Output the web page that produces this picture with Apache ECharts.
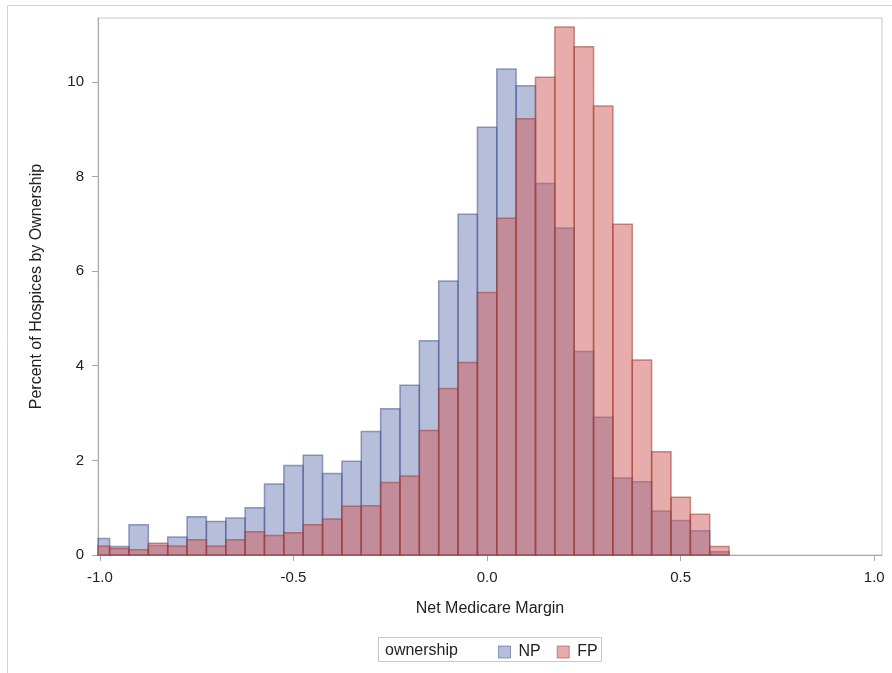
<!DOCTYPE html>
<html>
<head>
<meta charset="utf-8">
<script src="https://cdn.jsdelivr.net/npm/echarts@6/dist/echarts.min.js"></script>
<style>
  html, body { margin: 0; padding: 0; background: #fff; }
  #chart { width: 892px; height: 673px; }
</style>
</head>
<body>
<div id="chart"></div>
<script>
 // histogram of net medicare margin, bins of 0.05
 var binCenters = [-1.0, -0.95, -0.9, -0.85, -0.8, -0.75, -0.7, -0.65, -0.6, -0.55, -0.5,
     -0.45, -0.4, -0.35, -0.3, -0.25, -0.2, -0.15, -0.1, -0.05, 0.0, 0.05, 0.1, 0.15, 0.2,
     0.25, 0.3, 0.35, 0.4, 0.45, 0.5, 0.55, 0.6];
 var npValues = [0.35, 0.18, 0.64, 0.2, 0.38, 0.81, 0.71, 0.78, 1.0, 1.5, 1.89,
     2.11, 1.72, 1.98, 2.61, 3.09, 3.59, 4.53, 5.79, 7.2, 9.04, 10.27, 9.92, 7.85, 6.91,
     4.3, 2.91, 1.63, 1.55, 0.93, 0.73, 0.51, 0.07];
 var fpValues = [0.19, 0.14, 0.11, 0.25, 0.19, 0.32, 0.19, 0.32, 0.49, 0.41, 0.47,
     0.64, 0.76, 1.03, 1.04, 1.53, 1.67, 2.63, 3.52, 4.07, 5.55, 7.12, 9.22, 10.1, 11.16,
     10.74, 9.49, 6.99, 4.12, 2.18, 1.22, 0.86, 0.18];
 var xTicks = [-1.0, -0.5, 0.0, 0.5, 1.0];
 var yTicks = [0, 2, 4, 6, 8, 10];

 var binWidth = 0.05;
 var xMin = -1.005, xMax = 1.02;

 var toData = function (values) {
     var res = [];
     for (var i = 0; i < binCenters.length; i++) {
         res.push([binCenters[i], values[i]]);
     }
     return res;
 };

 var makeRender = function (fill, stroke) {
     return function (params, api) {
         var x0 = Math.max(api.value(0) - binWidth / 2, xMin);
         var x1 = Math.min(api.value(0) + binWidth / 2, xMax);
         var p0 = api.coord([x0, api.value(1)]);
         var p1 = api.coord([x1, 0]);
         return {
             type: 'rect',
             shape: { x: p0[0], y: p0[1], width: p1[0] - p0[0], height: p1[1] - p0[1] },
             style: { fill: fill, stroke: stroke, lineWidth: 1.5 }
         };
     };
 };

 var npFill = 'rgba(111, 126, 179, 0.5)';
 var npLine = 'rgba(68, 86, 148, 0.55)';
 var fpFill = 'rgba(208, 91, 91, 0.5)';
 var fpLine = 'rgba(162, 58, 46, 0.55)';
 var axisGray = '#a8a8a8';
 var textColor = '#222';
 var font = 'Liberation Sans';

 var chart = echarts.init(document.getElementById('chart'));
 chart.setOption({
     animation: false,
     grid: {
         left: 98,
         right: 10,
         top: 18,
         bottom: 118,
         show: true,
         borderColor: '#c8c8c8',
         borderWidth: 1
     },
     xAxis: {
         type: 'value',
         min: xMin,
         max: xMax,
         name: 'Net Medicare Margin',
         nameLocation: 'middle',
         nameGap: 46,
         nameTextStyle: { fontFamily: font, fontSize: 16, color: textColor },
         axisLine: { show: true, onZero: false, lineStyle: { color: axisGray } },
         axisTick: { show: true, length: 6, lineStyle: { color: axisGray }, customValues: xTicks },
         axisLabel: {
             customValues: xTicks,
             fontFamily: font, fontSize: 15, color: textColor, margin: 15,
             formatter: function (v) { return v.toFixed(1); }
         },
         splitLine: { show: false }
     },
     yAxis: {
         type: 'value',
         min: 0,
         max: 11.35,
         name: 'Percent of Hospices by Ownership',
         nameLocation: 'middle',
         nameGap: 53,
         nameTextStyle: { fontFamily: font, fontSize: 16, color: textColor },
         axisLine: { show: true, onZero: false, lineStyle: { color: axisGray } },
         axisTick: { show: true, length: 6, lineStyle: { color: axisGray }, customValues: yTicks },
         axisLabel: { customValues: yTicks, fontFamily: font, fontSize: 15, color: textColor, margin: 14 },
         splitLine: { show: false }
     },
     legend: {
         left: 493,
         top: 639,
         itemWidth: 12,
         itemHeight: 12,
         itemGap: 16,
         icon: 'rect',
         textStyle: { fontFamily: font, fontSize: 16, color: textColor, padding: [0, 0, 0, 3] },
         data: [
             { name: 'NP', itemStyle: { color: npFill, borderColor: npLine, borderWidth: 1 } },
             { name: 'FP', itemStyle: { color: fpFill, borderColor: fpLine, borderWidth: 1 } }
         ]
     },
     graphic: [
         {
             type: 'rect', silent: true,
             shape: { x: 7.5, y: 5.5, width: 1000, height: 1000 },
             style: { fill: 'none', stroke: '#d4d4d4', lineWidth: 1 }
         },
         {
             type: 'rect', silent: true,
             shape: { x: 378.5, y: 637.5, width: 223, height: 24 },
             style: { fill: 'none', stroke: '#c8c8c8', lineWidth: 1 }
         },
         {
             type: 'text', silent: true,
             left: 385, top: 643,
             style: { text: 'ownership', fontFamily: font, fontSize: 16, fill: textColor }
         }
     ],
     series: [
         {
             name: 'NP',
             type: 'custom',
             renderItem: makeRender(npFill, npLine),
             data: toData(npValues),
             encode: { x: 0, y: 1 },
             itemStyle: { color: npFill }
         },
         {
             name: 'FP',
             type: 'custom',
             renderItem: makeRender(fpFill, fpLine),
             data: toData(fpValues),
             encode: { x: 0, y: 1 },
             itemStyle: { color: fpFill }
         }
     ]
 });
</script>
</body>
</html>
